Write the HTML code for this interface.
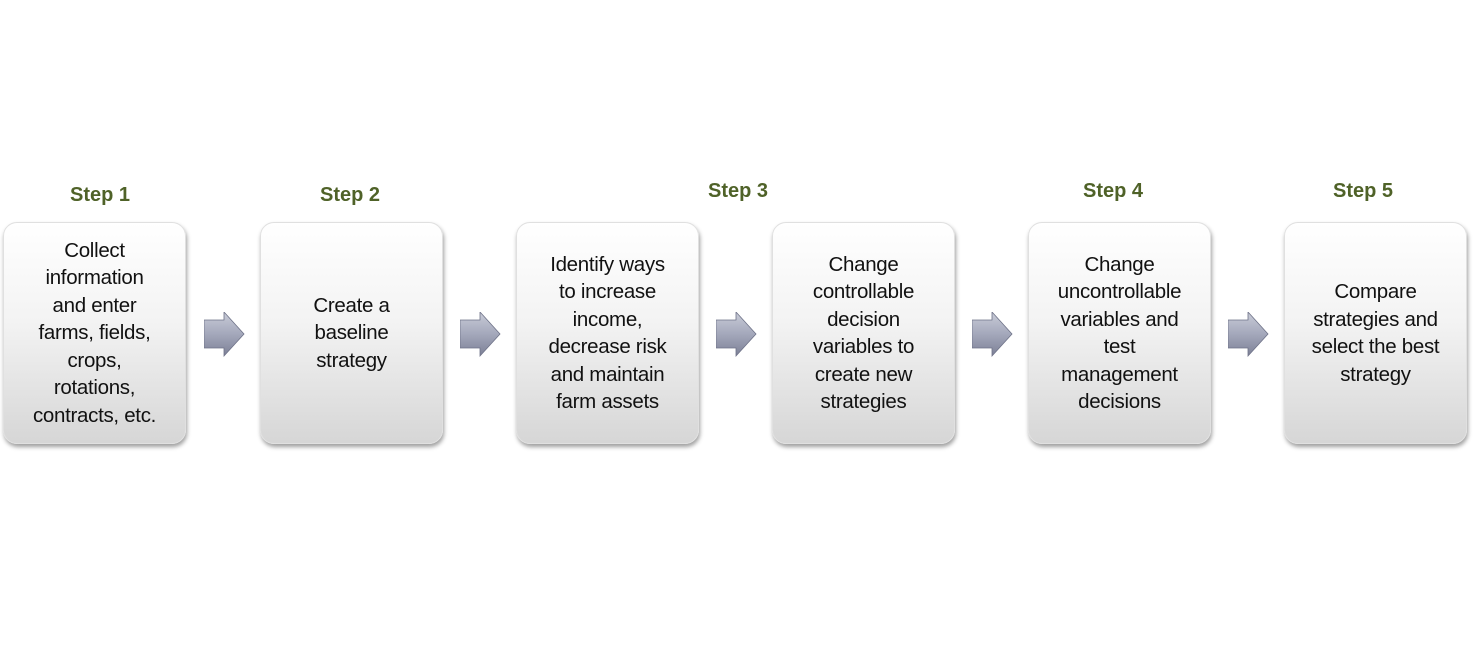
<!DOCTYPE html>
<html><head><meta charset="utf-8"><style>
html,body{margin:0;padding:0;background:#fff;}
body{width:1479px;height:667px;position:relative;overflow:hidden;font-family:"Liberation Sans",sans-serif;}
.box{position:absolute;top:222px;width:183px;height:222px;border-radius:14px;
background:linear-gradient(#ffffff 0%,#f3f3f3 45%,#d6d6d6 100%);
box-shadow:1px 3px 4px rgba(0,0,0,0.38);border:1px solid #e0e0e0;box-sizing:border-box;
display:flex;align-items:center;justify-content:center;text-align:center;
font-size:20.5px;line-height:27.5px;color:#111;letter-spacing:-0.3px;}
.step{position:absolute;font-weight:bold;color:#4f6228;font-size:20px;width:120px;text-align:center;}
.arr{position:absolute;top:312px;}
</style></head><body>
<div class="step" style="left:40px;top:184px">Step 1</div>
<div class="step" style="left:290px;top:184px">Step 2</div>
<div class="step" style="left:678px;top:180px">Step 3</div>
<div class="step" style="left:1053px;top:180px">Step 4</div>
<div class="step" style="left:1303px;top:180px">Step 5</div>

<div class="box" style="left:3px">Collect<br>information<br>and enter<br>farms, fields,<br>crops,<br>rotations,<br>contracts, etc.</div>
<div class="box" style="left:260px">Create a<br>baseline<br>strategy</div>
<div class="box" style="left:516px">Identify ways<br>to increase<br>income,<br>decrease risk<br>and maintain<br>farm assets</div>
<div class="box" style="left:772px">Change<br>controllable<br>decision<br>variables to<br>create new<br>strategies</div>
<div class="box" style="left:1028px">Change<br>uncontrollable<br>variables and<br>test<br>management<br>decisions</div>
<div class="box" style="left:1284px">Compare<br>strategies and<br>select the best<br>strategy</div>

<svg width="0" height="0" style="position:absolute"><defs>
<linearGradient id="g" x1="0" y1="0" x2="0" y2="1"><stop offset="0" stop-color="#c9ccd8"/><stop offset="0.5" stop-color="#a4a8bb"/><stop offset="1" stop-color="#7c8096"/></linearGradient>
</defs></svg>
<svg class="arr" style="left:204px" width="42" height="46"><polygon points="0,8 20,8 20,0 40,22 20,44 20,36 0,36" fill="url(#g)" stroke="#6e7288" stroke-width="0.8"/></svg>
<svg class="arr" style="left:460px" width="42" height="46"><polygon points="0,8 20,8 20,0 40,22 20,44 20,36 0,36" fill="url(#g)" stroke="#6e7288" stroke-width="0.8"/></svg>
<svg class="arr" style="left:716px" width="42" height="46"><polygon points="0,8 20,8 20,0 40,22 20,44 20,36 0,36" fill="url(#g)" stroke="#6e7288" stroke-width="0.8"/></svg>
<svg class="arr" style="left:972px" width="42" height="46"><polygon points="0,8 20,8 20,0 40,22 20,44 20,36 0,36" fill="url(#g)" stroke="#6e7288" stroke-width="0.8"/></svg>
<svg class="arr" style="left:1228px" width="42" height="46"><polygon points="0,8 20,8 20,0 40,22 20,44 20,36 0,36" fill="url(#g)" stroke="#6e7288" stroke-width="0.8"/></svg>
</body></html>
